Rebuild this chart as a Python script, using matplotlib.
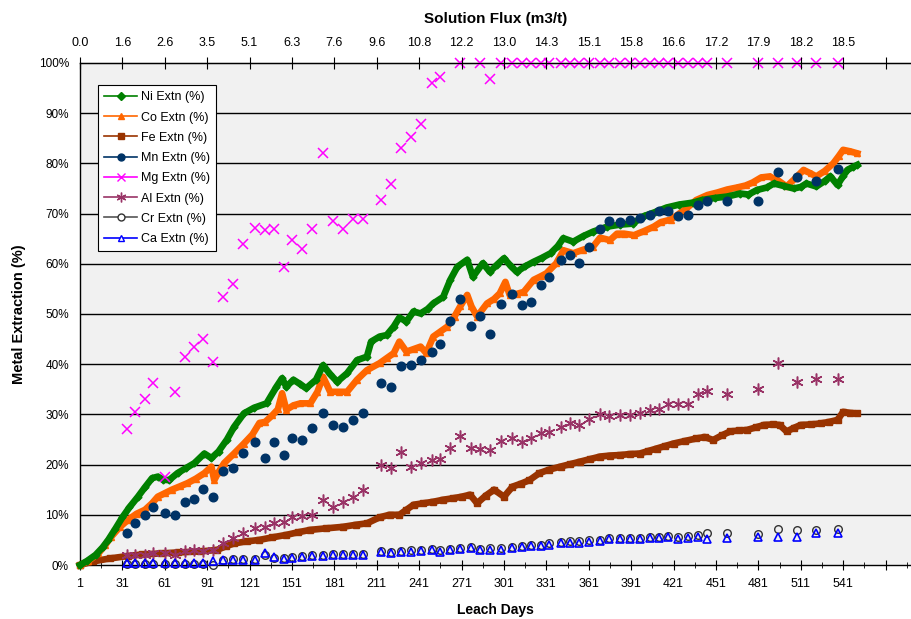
import matplotlib
matplotlib.use("Agg")
import matplotlib.pyplot as plt
from matplotlib.lines import Line2D
import numpy as np

plt.rcParams['font.family'] = ['Liberation Sans', 'DejaVu Sans']

# ---------------- data ----------------
ni_days = [1, 6, 12, 17, 21, 26, 31, 36, 42, 47, 52, 56, 60, 64, 70, 76, 82, 89, 94, 99, 105, 110, 117, 124, 133, 140, 144, 147, 152, 157, 161, 168, 173, 178, 183, 190, 197, 204, 207, 213, 218, 223, 227, 232, 237, 242, 247, 251, 258, 263, 268, 275, 279, 286, 291, 296, 301, 306, 310, 316, 322, 328, 334, 339, 343, 350, 357, 364, 374, 383, 392, 400, 408, 416, 425, 435, 441, 450, 459, 468, 474, 480, 487, 492, 499, 506, 511, 515, 522, 528, 532, 537, 541, 544, 548, 551]
ni_vals = [0, 0.8, 2, 3.5, 5, 7.2, 9.5, 11.5, 13.6, 15.5, 17.3, 17.6, 17, 16.9, 18.3, 19.3, 20.3, 22.2, 21.3, 22.6, 25, 27.5, 30.2, 31.3, 32.2, 35.5, 37.2, 35.5, 36.9, 36, 35.2, 36.9, 39.8, 38, 36.5, 38.2, 40.8, 41.5, 44.5, 45.5, 45.8, 47.5, 49.3, 48.5, 50.5, 50.1, 51, 52.1, 53.4, 56.8, 59.4, 60.8, 57.4, 60.1, 58.4, 59.8, 61.1, 59.5, 58.4, 59.5, 60.4, 61.2, 62.1, 63.5, 65.1, 64.4, 65.5, 66.4, 67.4, 67.8, 68, 69.5, 70.3, 71.2, 71.8, 72.2, 72.7, 73.1, 73.4, 74, 73.8, 74.7, 75.2, 76, 75.5, 75, 75.3, 76, 75.4, 76.5, 77.4, 75.7, 77.5, 78.7, 79.3, 79.7]

co_days = [1, 7, 14, 19, 23, 29, 35, 41, 47, 52, 56, 61, 66, 72, 77, 83, 89, 94, 96, 99, 103, 110, 117, 123, 128, 132, 137, 141, 144, 147, 152, 157, 164, 169, 173, 178, 184, 190, 197, 204, 213, 218, 223, 227, 232, 237, 242, 246, 251, 256, 261, 266, 270, 275, 278, 282, 289, 294, 298, 302, 305, 310, 315, 322, 327, 331, 338, 343, 350, 357, 364, 369, 376, 381, 386, 393, 400, 407, 412, 419, 425, 430, 437, 445, 452, 459, 466, 472, 477, 483, 489, 495, 501, 507, 513, 518, 522, 528, 534, 538, 541, 546, 551]
co_vals = [0, 0.8, 2.3, 4, 5.6, 7.5, 9, 10.2, 11, 12.3, 13.6, 14.3, 15, 15.7, 16.3, 17.2, 18.3, 19.6, 16.9, 18.5, 20.3, 22.2, 24.2, 26, 28.3, 28.5, 29.8, 31, 34.2, 30.9, 31.8, 32.2, 32.2, 34.5, 37.5, 34.5, 34.5, 34.5, 36.9, 38.8, 40.2, 41.2, 42.2, 44.5, 42.5, 43, 43.5, 42.2, 45.5, 46.5, 47.5, 49.5, 51.5, 53.8, 51.5, 49.5, 52.1, 53, 54.1, 56.4, 53.8, 54, 54.4, 56.8, 57.5, 58.1, 60.1, 62.7, 62.1, 62.8, 63.4, 65.2, 64.7, 66, 66, 65.7, 66.5, 67.4, 68.3, 68.8, 70, 71, 72.7, 73.7, 74.2, 74.8, 75.2, 75.6, 76.2, 77.2, 77.4, 76.6, 75.4, 77, 78.7, 78, 77.4, 78.5, 80, 81.5, 82.7, 82.4, 82]

fe_days = [1, 10, 22, 35, 45, 58, 70, 86, 98, 104, 110, 119, 128, 137, 147, 155, 164, 175, 187, 196, 204, 213, 220, 227, 232, 237, 244, 251, 258, 265, 271, 277, 282, 288, 294, 301, 307, 313, 319, 326, 333, 341, 348, 355, 362, 369, 376, 383, 390, 397, 403, 409, 415, 421, 429, 437, 443, 449, 455, 461, 467, 473, 479, 485, 491, 496, 501, 506, 511, 518, 525, 531, 537, 541, 546, 551]
fe_vals = [0, 0.7, 1.3, 1.8, 2.1, 2.3, 2.5, 2.7, 3, 3.7, 4.3, 4.7, 5, 5.5, 6, 6.5, 7, 7.3, 7.6, 8, 8.3, 9.5, 10, 10, 11, 12, 12.3, 12.6, 13, 13.3, 13.6, 14, 12.3, 13.8, 15, 13.6, 15.6, 16.2, 16.9, 18.3, 19, 19.6, 20.1, 20.6, 21.1, 21.6, 21.8, 21.9, 22.1, 22.2, 22.7, 23.2, 23.7, 24.2, 24.7, 25.2, 25.5, 24.9, 25.8, 26.6, 26.8, 26.9, 27.4, 27.9, 28, 27.9, 26.6, 27.3, 27.9, 28, 28.2, 28.5, 28.9, 30.5, 30.3, 30.2]

# assay days for the sparse series
assay_days = [34, 40, 47, 53, 61, 68, 75, 82, 88, 95, 102, 109, 116, 125, 132, 138, 145, 151, 158, 165, 173, 180, 187, 194, 201, 214, 221, 228, 235, 242, 250, 256, 263, 270, 278, 284, 291, 299, 307, 314, 320, 327, 333, 341, 348, 354, 361, 369, 375, 383, 390, 397, 404, 411, 417, 424, 431, 438, 445, 459, 481, 495, 508, 522, 537]

mn_vals = [6.4, 8.3, 10.0, 11.5, 10.3, 10.0, 12.5, 13.1, 15.1, 13.5, 18.7, 19.4, 22.4, 24.5, 21.3, 24.5, 22.0, 25.2, 25.0, 27.2, 30.2, 27.8, 27.4, 28.8, 30.2, 36.2, 35.5, 39.6, 39.8, 40.8, 42.4, 44.0, 48.6, 52.9, 47.7, 49.7, 46.0, 51.9, 53.9, 51.7, 52.4, 55.7, 57.3, 60.8, 61.8, 60.2, 63.3, 66.9, 68.6, 68.3, 68.7, 69.2, 69.8, 70.5, 70.6, 69.6, 69.7, 71.8, 72.6, 72.6, 72.6, 78.2, 77.2, 76.4, 78.9]

mg_vals = [27.0, 30.5, 33.0, 36.2, 17.5, 34.5, 41.5, 43.5, 45.0, 40.4, 53.3, 55.9, 64.0, 67.2, 66.8, 67.0, 59.3, 64.7, 63.0, 67.0, 82.0, 68.5, 67.0, 69.0, 69.0, 72.8, 75.9, 83.0, 85.3, 87.8, 96.0, 97.3, np.nan, 100, np.nan, 100, 96.8, 100, 100, 100, 100, 100, 100, 100, 100, 100, 100, 100, 100, 100, 100, 100, 100, 100, 100, 100, 100, 100, 100, 100, 100, 100, 100, 100, 100]

al_vals = [2.0, 2.0, 2.0, 2.3, 2.3, 2.0, 2.7, 3.0, 2.7, 3.0, 4.3, 5.3, 6.3, 7.3, 7.6, 8.3, 8.6, 9.5, 9.8, 10.0, 12.9, 11.5, 12.5, 13.5, 15.0, 19.9, 19.3, 22.5, 19.5, 20.3, 21.0, 21.2, 23.4, 25.6, 23.4, 23.2, 22.9, 24.7, 25.2, 24.6, 25.2, 26.2, 26.4, 27.5, 28.3, 27.9, 29.0, 30.1, 29.6, 29.9, 29.9, 30.2, 30.9, 31.0, 32.1, 32.1, 32.1, 34.0, 34.7, 34.1, 35.0, 40.3, 36.5, 37.0, 37.1]

cr_vals = [0.2, 0.2, 0.2, 0.2, 0.2, 0.2, 0.2, 0.2, 0.2, 0.0, 1.0, 1.1, 1.1, 1.1, 2.0, 1.4, 1.3, 1.5, 1.7, 1.9, 2.0, 2.1, 2.1, 2.2, 2.2, 2.7, 2.6, 2.8, 2.9, 3.0, 3.2, 2.9, 3.2, 3.4, 3.5, 3.2, 3.3, 3.4, 3.6, 3.8, 4.0, 4.0, 4.3, 4.5, 4.7, 4.7, 4.9, 5.0, 5.3, 5.3, 5.3, 5.3, 5.6, 5.6, 5.7, 5.6, 5.7, 5.9, 6.3, 6.3, 6.1, 7.1, 6.9, 6.9, 7.1]

ca_vals = [0.3, 0.3, 0.3, 0.3, 0.3, 0.3, 0.3, 0.3, 0.3, 0.7, 1.0, 1.0, 1.0, 1.0, 2.3, 1.5, 1.2, 1.3, 1.5, 1.7, 1.8, 1.9, 1.9, 2.0, 2.0, 2.5, 2.3, 2.5, 2.6, 2.7, 3.0, 2.5, 3.0, 3.1, 3.3, 2.9, 3.0, 3.0, 3.3, 3.6, 3.7, 3.8, 4.0, 4.3, 4.4, 4.4, 4.6, 4.8, 5.1, 5.1, 5.1, 5.1, 5.4, 5.4, 5.5, 5.1, 5.3, 5.5, 5.2, 5.3, 5.5, 5.5, 5.6, 6.3, 6.3]

bottom_ticks = [1, 31, 61, 91, 121, 151, 181, 211, 241, 271, 301, 331, 361, 391, 421, 451, 481, 511, 541, 571]
bottom_labels = ['1', '31', '61', '91', '121', '151', '181', '211', '241', '271', '301', '331', '361', '391', '421', '451', '481', '511', '541', '']
flux_labels = ['0.0', '1.6', '2.6', '3.5', '5.1', '6.3', '7.6', '9.6', '10.8', '12.2', '13.0', '14.3', '15.1', '15.8', '16.6', '17.2', '17.9', '18.2', '18.5', '']

# ---------------- styles ----------------
C_NI = '#008000'
C_CO = '#FF6600'
C_FE = '#993300'
C_MN = '#003366'
C_MG = '#FF00FF'
C_AL = '#993366'
C_CR = '#333333'
C_CA = '#0000FF'
AST = (6, 2, 0)

fig = plt.figure(figsize=(9.11, 6.19), dpi=100)
ax = fig.add_axes([80/911, 54/619, 831/911, 502/619])
ax.set_facecolor('#f1f1f1')

ax.set_xlim(1, 589)
ax.set_ylim(0, 100)

for v in range(10, 100, 10):
    ax.axhline(v, color='black', lw=1.0, zorder=1)

# daily series
ax.plot(fe_days, fe_vals, color=C_FE, lw=4.8, marker='s', ms=4, zorder=3, clip_on=False)
ax.plot(co_days, co_vals, color=C_CO, lw=4.8, marker='^', ms=5, zorder=4, clip_on=False)
ax.plot(ni_days, ni_vals, color=C_NI, lw=4.8, marker='D', ms=3.5, zorder=5, clip_on=False)

# sparse series
ax.plot(assay_days, mn_vals, ls='none', marker='o', ms=6.2, color=C_MN, zorder=6, clip_on=False)
ax.plot(assay_days, mg_vals, ls='none', marker='x', ms=7.5, mew=1.1, color=C_MG, zorder=6, clip_on=False)
ax.plot(assay_days, al_vals, ls='none', marker=AST, ms=8.5, mew=1.1, color=C_AL, zorder=6, clip_on=False)
ax.plot(assay_days, cr_vals, ls='none', marker='o', ms=5.5, mfc='none', mew=1.0, color=C_CR, zorder=6, clip_on=False)
ax.plot(assay_days, ca_vals, ls='none', marker='^', ms=5.5, mfc='none', mew=1.2, color=C_CA, zorder=7, clip_on=False)

# axes styling
ax.spines['right'].set_visible(False)
for s in ['left', 'bottom', 'top']:
    ax.spines[s].set_color('black')
    ax.spines[s].set_linewidth(1.0)

ax.set_xticks(bottom_ticks)
ax.set_xticklabels(bottom_labels, fontsize=9)
ax.set_xticks(list(range(16, 589, 30)), minor=True)
ax.tick_params(axis='x', which='major', direction='inout', length=7, pad=6)
ax.tick_params(axis='x', which='minor', direction='inout', length=5)

ax.set_yticks(range(0, 101, 10))
ax.set_yticklabels([f'{v}%' for v in range(0, 101, 10)], fontsize=8.5)
ax.tick_params(axis='y', direction='out', length=0, pad=8)

ax.set_xlabel('Leach Days', fontsize=10, fontweight='bold', labelpad=9)
ax.set_ylabel('Metal Extraction (%)', fontsize=10.5, fontweight='bold', labelpad=9)

top = ax.twiny()
top.set_xlim(ax.get_xlim())
top.set_xticks(bottom_ticks)
top.set_xticklabels(flux_labels, fontsize=9)
top.tick_params(axis='x', direction='inout', length=8, pad=6)
top.set_xlabel('Solution Flux (m3/t)', fontsize=11, fontweight='bold', labelpad=10)
for s in ['right', 'left', 'bottom']:
    top.spines[s].set_visible(False)

handles = [
    Line2D([], [], color=C_NI, marker='D', ms=4, lw=1.2, label='Ni Extn (%)'),
    Line2D([], [], color=C_CO, marker='^', ms=5, lw=1.2, label='Co Extn (%)'),
    Line2D([], [], color=C_FE, marker='s', ms=4, lw=1.2, label='Fe Extn (%)'),
    Line2D([], [], color=C_MN, marker='o', ms=5, lw=1.2, label='Mn Extn (%)'),
    Line2D([], [], color=C_MG, marker='x', ms=6, lw=1.2, label='Mg Extn (%)'),
    Line2D([], [], color=C_AL, marker=AST, ms=7, lw=1.2, label='Al Extn (%)'),
    Line2D([], [], color='#555555', marker='o', ms=5, mfc='white', mec='#333333', lw=1.2, label='Cr Extn (%)'),
    Line2D([], [], color=C_CA, marker='^', ms=5, mfc='white', lw=1.2, label='Ca Extn (%)'),
]
leg = ax.legend(handles=handles, loc='upper left', bbox_to_anchor=(0.0217, 0.956),
                fontsize=9, frameon=True, fancybox=False, framealpha=1.0,
                edgecolor='black', handlelength=2.6, handletextpad=0.3,
                labelspacing=0.66, borderpad=0.5, borderaxespad=0.0)
leg.get_frame().set_linewidth(0.8)
leg.set_zorder(10)

fig.savefig('out.png', dpi=100)
